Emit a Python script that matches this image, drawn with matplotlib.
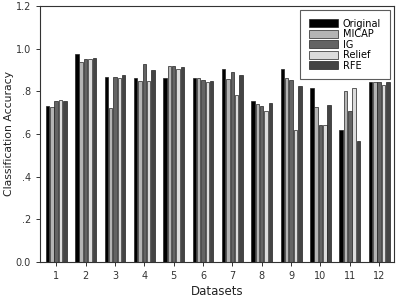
import numpy as np
import matplotlib
matplotlib.use("Agg")
import matplotlib.pyplot as plt

datasets = [str(i) for i in range(1, 13)]
methods = ["Original", "MICAP", "IG", "Relief", "RFE"]
original = [0.733, 0.974, 0.869, 0.863, 0.861, 0.861, 0.906, 0.753, 0.903, 0.817, 0.620, 0.842]
micap = [0.728, 0.939, 0.720, 0.850, 0.917, 0.861, 0.856, 0.739, 0.864, 0.728, 0.800, 0.842]
ig = [0.756, 0.952, 0.869, 0.927, 0.920, 0.852, 0.892, 0.730, 0.855, 0.642, 0.708, 0.844]
relief = [0.759, 0.952, 0.863, 0.850, 0.903, 0.842, 0.783, 0.706, 0.620, 0.642, 0.816, 0.830]
rfe = [0.756, 0.958, 0.877, 0.902, 0.916, 0.847, 0.875, 0.744, 0.823, 0.738, 0.566, 0.842]

series = [original, micap, ig, relief, rfe]
colors = ["#000000", "#b4b4b4", "#646464", "#dcdcdc", "#444444"]

fig = plt.figure(figsize=(3.97, 3.01), dpi=100)
ax = fig.add_axes([0.101, 0.130, 0.891, 0.850])

x = np.arange(1, len(datasets) + 1)
step = 0.148
width = 0.12
for i, (vals, name, c) in enumerate(zip(series, methods, colors)):
    ax.bar(x + (i - 2) * step, vals, width, color=c, edgecolor="#222222",
           linewidth=0.5, label=name)

ax.set_xlim(0.45, 12.5)
ax.set_ylim(0, 1.2)
ax.set_xticks(x)
ax.set_xticklabels(datasets, fontsize=7, color="#333333")
yt = [0.0, 0.2, 0.4, 0.6, 0.8, 1.0, 1.2]
ax.set_yticks(yt)
ax.set_yticklabels(["0.0", ".2", ".4", ".6", ".8", "1.0", "1.2"], fontsize=7,
                   color="#444444")
ax.tick_params(axis="both", direction="out", length=3, width=0.7, colors="#333333")
for s in ax.spines.values():
    s.set_linewidth(0.8)
    s.set_color("#333333")
ax.set_xlabel("Datasets", fontsize=8.5, labelpad=3, color="#222222")
ax.set_ylabel("Classification Accuracy", fontsize=7.8, labelpad=1.5,
              color="#222222")

leg = ax.legend(loc="upper right", fontsize=7, frameon=True, fancybox=False,
                edgecolor="#333333", handlelength=3.0, handleheight=0.9,
                borderpad=0.9, labelspacing=0.05, handletextpad=0.5,
                borderaxespad=0.4)
leg.get_frame().set_linewidth(0.8)

fig.savefig("out.png", dpi=100)
